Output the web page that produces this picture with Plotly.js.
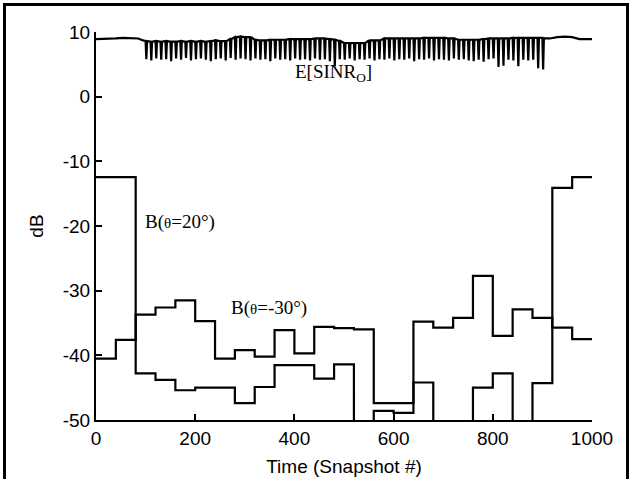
<!DOCTYPE html>
<html>
<head>
<meta charset="utf-8">
<script src="https://cdn.plot.ly/plotly-3.0.1.min.js"></script>
<style>
html, body { margin:0; padding:0; width:632px; height:479px; overflow:hidden; background:#fff; }
#chart { position:absolute; left:0; top:0; width:632px; height:479px; }
#frame { position:absolute; left:3px; top:3px; width:620px; height:600px; border:3px solid #000; pointer-events:none; }
</style>
</head>
<body>
<div id="chart"></div>
<div id="frame"></div>
<script>
// Block edges (snapshots) for the beam-pattern step curves
const blockEdges = [0,40,80,120,160,200,240,280,320,360,400,440,480,520,560,600,640,680,720,760,800,840,880,920,960,1000];
// B(theta=-30 deg), dB, one value per block (last repeats)
const beamMinus30 = [-40.5,-37.6,-33.7,-32.6,-31.5,-34.7,-40.5,-39.2,-40.2,-36.1,-39.7,-35.6,-35.8,-36.0,-47.4,-47.4,-34.8,-35.7,-34.2,-27.7,-37.0,-32.9,-34.2,-35.7,-37.5,-37.5];
// B(theta=20 deg), dB (values below -50 fall off the axis)
const beamPlus20 = [-12.45,-12.45,-42.8,-43.8,-45.4,-45.0,-45.0,-47.4,-44.9,-41.5,-41.5,-43.6,-41.4,-60,-48.6,-48.9,-44.2,-60,-60,-45.0,-42.8,-60,-44.3,-14.1,-12.45,-12.45];

// E[SINR_o] : smooth start, periodic dips, smooth end
const sinrHeadX = [0,20,40,55,70,85,95];
const sinrHeadY = [8.9,8.9,9.0,9.1,9.1,9.0,8.7];
const sinrSpikeTimes = [100,110,120,130,140,150,160,170,180,190,200,210,220,230,240,250,260,270,280,290,300,310,320,330,340,350,360,370,380,390,400,410,420,430,440,450,460,470,480,490,500,510,520,530,540,550,560,570,580,590,600,610,620,630,640,650,660,670,680,690,700,710,720,730,740,750,760,770,780,790,800,810,820,830,840,850,860,870,880,890,900];
const sinrSpikeTop = [8.6,8.5,8.6,8.5,8.6,8.5,8.5,8.6,8.5,8.6,8.5,8.6,8.5,8.6,8.7,8.6,8.6,8.9,9.2,9.3,9.2,9.2,8.8,8.7,8.7,8.8,8.8,8.8,8.8,8.9,8.9,8.9,8.9,8.9,9.0,9.0,9.0,8.9,8.8,8.6,8.3,8.3,8.3,8.3,8.3,8.7,8.7,8.7,9.0,9.0,9.0,9.0,9.0,9.0,9.0,9.0,9.1,9.1,9.1,9.1,9.1,9.0,9.0,8.8,8.8,8.8,8.8,8.8,8.9,9.0,9.0,9.0,9.0,9.0,9.1,9.1,9.1,9.1,9.1,9.1,9.1];
const sinrSpikeDip = [5.8,5.6,5.9,5.7,5.8,5.5,5.9,5.7,6.0,5.6,5.8,5.9,5.7,5.5,5.8,5.9,5.6,6.0,5.7,5.9,5.8,5.6,5.9,5.7,5.8,5.5,5.9,5.7,5.8,5.6,5.9,5.7,5.8,5.6,5.9,5.7,5.8,5.5,4.7,5.8,5.7,5.9,5.6,5.8,5.7,5.9,5.6,5.8,5.7,5.9,5.6,5.8,5.7,5.9,5.5,5.8,5.7,5.9,5.6,5.8,5.7,5.6,5.9,5.7,5.8,5.6,5.5,5.7,5.4,5.8,5.9,4.6,4.8,5.7,5.6,4.7,5.7,5.6,5.7,4.4,4.2];
const sinrTailX = [905,915,930,945,960,975,1000];
const sinrTailY = [9.0,9.0,9.2,9.3,9.2,8.9,8.9];

const xTicks = [0,200,400,600,800,1000];
const yTicks = [-50,-40,-30,-20,-10,0,10];

// build SINR polyline from the arrays
const sx = sinrHeadX.slice(), sy = sinrHeadY.slice();
for (let i = 0; i < sinrSpikeTimes.length; i++) {
  const t = sinrSpikeTimes[i];
  sx.push(t, t + 1.5, t + 3);
  sy.push(sinrSpikeTop[i], sinrSpikeDip[i], sinrSpikeTop[i]);
}
for (let i = 0; i < sinrTailX.length; i++) { sx.push(sinrTailX[i]); sy.push(sinrTailY[i]); }

const traces = [
  {x: sx, y: sy, mode: 'lines', line: {color: '#000', width: 2.2}, hoverinfo: 'skip'},
  {x: blockEdges, y: beamMinus30, mode: 'lines', line: {color: '#000', width: 2.2, shape: 'hv'}, hoverinfo: 'skip'},
  {x: blockEdges, y: beamPlus20, mode: 'lines', line: {color: '#000', width: 2.2, shape: 'hv'}, hoverinfo: 'skip'}
];

const serif = {family: 'Liberation Serif, Times New Roman, serif', size: 19, color: '#000'};
const layout = {
  width: 632, height: 479,
  margin: {l: 96, r: 40, t: 32, b: 59},
  paper_bgcolor: '#fff', plot_bgcolor: '#fff',
  showlegend: false,
  font: {family: 'Liberation Sans, Arial, sans-serif', size: 18, color: '#000'},
  xaxis: {
    range: [0, 1000], tickvals: xTicks, ticktext: xTicks.map(String),
    ticks: 'inside', ticklen: 6, tickwidth: 2, tickcolor: '#000',
    showline: true, linecolor: '#000', linewidth: 2, mirror: false,
    showgrid: false, zeroline: false,
    tickfont: {size: 19},
    title: {text: 'Time (Snapshot #)', font: {size: 19}, standoff: 12}
  },
  yaxis: {
    range: [-50, 10], tickvals: yTicks, ticktext: yTicks.map(String),
    ticks: 'inside', ticklen: 6, tickwidth: 2, tickcolor: '#000',
    showline: true, linecolor: '#000', linewidth: 2, mirror: false,
    showgrid: false, zeroline: false,
    tickfont: {size: 19},
    title: {text: 'dB', font: {size: 19}, standoff: 14}
  },
  annotations: [
    {x: 478, y: 3.6, xref: 'x', yref: 'y', text: 'E[SINR<sub>O</sub>]', showarrow: false, font: serif},
    {x: 170, y: -19.4, xref: 'x', yref: 'y', text: 'B(<span style="font-size:15px">θ</span>=20°)', showarrow: false, font: serif},
    {x: 348, y: -32.7, xref: 'x', yref: 'y', text: 'B(<span style="font-size:15px">θ</span>=-30°)', showarrow: false, font: serif}
  ]
};

Plotly.newPlot('chart', traces, layout, {displayModeBar: false, staticPlot: true});
</script>
</body>
</html>
